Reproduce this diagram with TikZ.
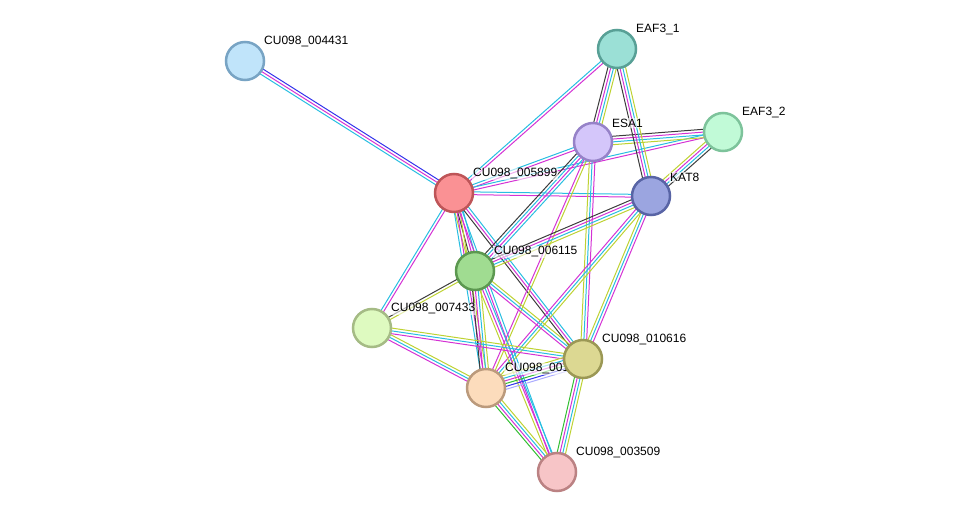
\documentclass[tikz,border=0pt]{standalone}
\usepackage{fontspec}
\setmainfont{Liberation Sans}
\usepackage{xcolor}
\usepackage{tikz}
\usetikzlibrary{calc,positioning}

\definecolor{dbcyan}{RGB}{40,190,225}
\definecolor{expmag}{RGB}{212,50,212}
\definecolor{txtyel}{RGB}{190,210,50}
\definecolor{coexp}{RGB}{60,60,60}
\definecolor{coocc}{RGB}{50,50,235}
\definecolor{neigh}{RGB}{50,190,50}
\definecolor{homol}{RGB}{170,170,255}

\pgfdeclarelayer{edges}
\pgfdeclarelayer{tags}
\pgfsetlayers{edges,tags,main}

% one thin line per evidence channel, side by side
\newcommand{\netedge}[3]{%
  \foreach \c [count=\i] in {#3} {\xdef\nlines{\i}}
  \foreach \c [count=\i] in {#3} {
    \pgfmathsetmacro\off{(\i-(\nlines+1)/2)*2.8}
    \draw[link, \c] ($(#1)!\off pt!90:(#2)$) -- ($(#2)!\off pt!-90:(#1)$);
  }%
}

\begin{document}
\begin{tikzpicture}[
  x=1pt, y=-1pt,
  font=\fontsize{12}{14}\selectfont,
  % Node styles
  protein/.style={circle, minimum size=38pt, inner sep=0pt, line width=2.5pt},
  tag/.style={anchor=west, inner sep=1pt, fill=white, fill opacity=0.6, text opacity=1},
  link/.style={line width=1pt}
]
  \useasboundingbox (0,0) rectangle (976,518);

  % ============================================
  % Proteins
  % ============================================
  \node[protein, fill={rgb,255:red,192;green,228;blue,250}, draw={rgb,255:red,120;green,164;blue,196}] (p4431) at (245,61) {};
  \node[protein, fill={rgb,255:red,155;green,224;blue,214}, draw={rgb,255:red,88;green,160;blue,150}] (eaf1) at (617,49) {};
  \node[protein, fill={rgb,255:red,212;green,198;blue,250}, draw={rgb,255:red,150;green,130;blue,200}] (esa) at (593,142) {};
  \node[protein, fill={rgb,255:red,193;green,250;blue,215}, draw={rgb,255:red,125;green,195;blue,155}] (eaf2) at (723,132) {};
  \node[protein, fill={rgb,255:red,250;green,145;blue,148}, draw={rgb,255:red,190;green,85;blue,88}] (p5899) at (454,193) {};
  \node[protein, fill={rgb,255:red,155;green,165;blue,224}, draw={rgb,255:red,88;green,100;blue,165}] (kat) at (651,196) {};
  \node[protein, fill={rgb,255:red,160;green,220;blue,145}, draw={rgb,255:red,92;green,152;blue,80}] (p6115) at (475,271) {};
  \node[protein, fill={rgb,255:red,222;green,250;blue,192}, draw={rgb,255:red,165;green,187;blue,133}] (p7433) at (372,328) {};
  \node[protein, fill={rgb,255:red,252;green,220;blue,188}, draw={rgb,255:red,187;green,154;blue,124}] (p001) at (486,388) {};
  \node[protein, fill={rgb,255:red,220;green,216;blue,146}, draw={rgb,255:red,155;green,152;blue,85}] (p10616) at (583,359) {};
  \node[protein, fill={rgb,255:red,247;green,197;blue,199}, draw={rgb,255:red,187;green,130;blue,131}] (p3509) at (557,472) {};

  % ============================================
  % Labels
  % ============================================
  \begin{pgfonlayer}{tags}
    \node[tag] (t4431) at ($(p4431)+(18,-19)$) {CU098\_004431};
    \node[tag] (teaf1) at ($(eaf1)+(18,-19)$) {EAF3\_1};
    \node[tag] (tesa) at ($(esa)+(18,-19)$) {ESA1};
    \node[tag] (teaf2) at ($(eaf2)+(18,-19)$) {EAF3\_2};
    \node[tag] (t5899) at ($(p5899)+(18,-19)$) {CU098\_005899};
    \node[tag] (tkat) at ($(kat)+(18,-19)$) {KAT8};
    \node[tag] (t6115) at ($(p6115)+(18,-19)$) {CU098\_006115};
    \node[tag] (t7433) at ($(p7433)+(18,-19)$) {CU098\_007433};
    \node[tag] (t001) at ($(p001)+(18,-19)$) {CU098\_001};
    \node[tag] (t10616) at ($(p10616)+(18,-19)$) {CU098\_010616};
    \node[tag] (t3509) at ($(p3509)+(18,-19)$) {CU098\_003509};
  \end{pgfonlayer}

  % ============================================
  % Interactions
  % ============================================
  \begin{pgfonlayer}{edges}
    \netedge{p4431}{p5899}{dbcyan,expmag,coocc}
    \netedge{p5899}{eaf1}{expmag,dbcyan}
    \netedge{p5899}{esa}{expmag,dbcyan}
    \netedge{p5899}{eaf2}{expmag,dbcyan}
    \netedge{p5899}{kat}{expmag,dbcyan}
    \netedge{p5899}{p6115}{txtyel,coexp,expmag,dbcyan}
    \netedge{p5899}{p7433}{dbcyan,expmag}
    \netedge{p5899}{p001}{dbcyan,expmag,txtyel}
    \netedge{p5899}{p10616}{coexp,expmag,dbcyan}
    \netedge{p5899}{p3509}{expmag,dbcyan}

    \netedge{esa}{eaf1}{txtyel,dbcyan,expmag,coexp}
    \netedge{esa}{eaf2}{txtyel,dbcyan,expmag,coexp}
    \netedge{eaf1}{kat}{coexp,expmag,dbcyan,txtyel}
    \netedge{eaf2}{kat}{txtyel,expmag,dbcyan,coexp}
    \netedge{esa}{p6115}{coexp,dbcyan,expmag,dbcyan}
    \netedge{esa}{p001}{expmag,txtyel}
    \netedge{esa}{p10616}{txtyel,dbcyan,expmag}

    \netedge{kat}{p6115}{coexp,expmag,dbcyan,txtyel}
    \netedge{kat}{p001}{expmag,dbcyan,txtyel}
    \netedge{kat}{p10616}{txtyel,dbcyan,expmag}

    \netedge{p6115}{p7433}{coexp,txtyel}
    \netedge{p6115}{p001}{coexp,expmag,dbcyan,txtyel}
    \netedge{p6115}{p10616}{expmag,dbcyan,txtyel}
    \netedge{p6115}{p3509}{txtyel,expmag,dbcyan}

    \netedge{p7433}{p10616}{expmag,dbcyan,txtyel}
    \netedge{p7433}{p001}{expmag,dbcyan,txtyel}

    \netedge{p001}{p10616}{homol,coocc,neigh,expmag,dbcyan,txtyel}
    \netedge{p001}{p3509}{neigh,expmag,dbcyan,txtyel}
    \netedge{p10616}{p3509}{neigh,expmag,dbcyan,txtyel}
  \end{pgfonlayer}

\end{tikzpicture}
\end{document}
